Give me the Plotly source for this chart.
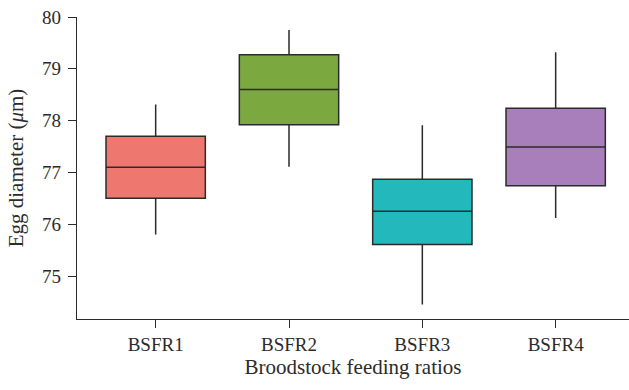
import plotly.graph_objects as go

categories = ["BSFR1", "BSFR2", "BSFR3", "BSFR4"]
lower_whisker = [75.80, 77.11, 74.45, 76.12]
q1_values = [76.50, 77.92, 75.61, 76.74]
median_values = [77.10, 78.60, 76.25, 77.49]
q3_values = [77.70, 79.27, 76.87, 78.24]
upper_whisker = [78.31, 79.75, 77.91, 79.32]
colors = ["#EE7770", "#7BA940", "#23B8BC", "#A87FBA"]
y_ticks = [75, 76, 77, 78, 79, 80]

FONT = "Liberation Serif"
INK = "#2b2b2b"

fig = go.Figure()
for i, cat in enumerate(categories):
    fig.add_trace(go.Box(
        x=[cat],
        q1=[q1_values[i]],
        median=[median_values[i]],
        q3=[q3_values[i]],
        lowerfence=[lower_whisker[i]],
        upperfence=[upper_whisker[i]],
        fillcolor=colors[i],
        line=dict(color=INK, width=1.5),
        width=0.745,
        whiskerwidth=0,
        boxpoints=False,
        showlegend=False,
        hoverinfo="skip",
    ))

fig.update_layout(
    width=629, height=390,
    margin=dict(l=77, r=0, t=17, b=71),
    paper_bgcolor="white", plot_bgcolor="white",
    boxmode="overlay",
    font=dict(family=FONT, size=19, color=INK),
    xaxis=dict(
        type="category",
        categoryorder="array", categoryarray=categories,
        range=[-0.59, 3.55],
        showline=True, linecolor=INK, linewidth=1.2,
        ticks="outside", ticklen=8, tickwidth=1.2, tickcolor=INK,
        showgrid=False, zeroline=False,
        tickfont=dict(family=FONT, size=19, color=INK),
        title=dict(text="Broodstock feeding ratios", font=dict(family=FONT, size=21, color=INK), standoff=4),
    ),
    yaxis=dict(
        range=[74.17, 80],
        tickvals=y_ticks,
        showline=True, linecolor=INK, linewidth=1.2,
        ticks="outside", ticklen=8, tickwidth=1.2, tickcolor=INK,
        ticklabelstandoff=3,
        showgrid=False, zeroline=False,
        tickfont=dict(family=FONT, size=19, color=INK),
        title=dict(text="Egg diameter (<i>μ</i>m)", font=dict(family=FONT, size=21, color=INK), standoff=12),
    ),
)

fig.write_html("out.html")
